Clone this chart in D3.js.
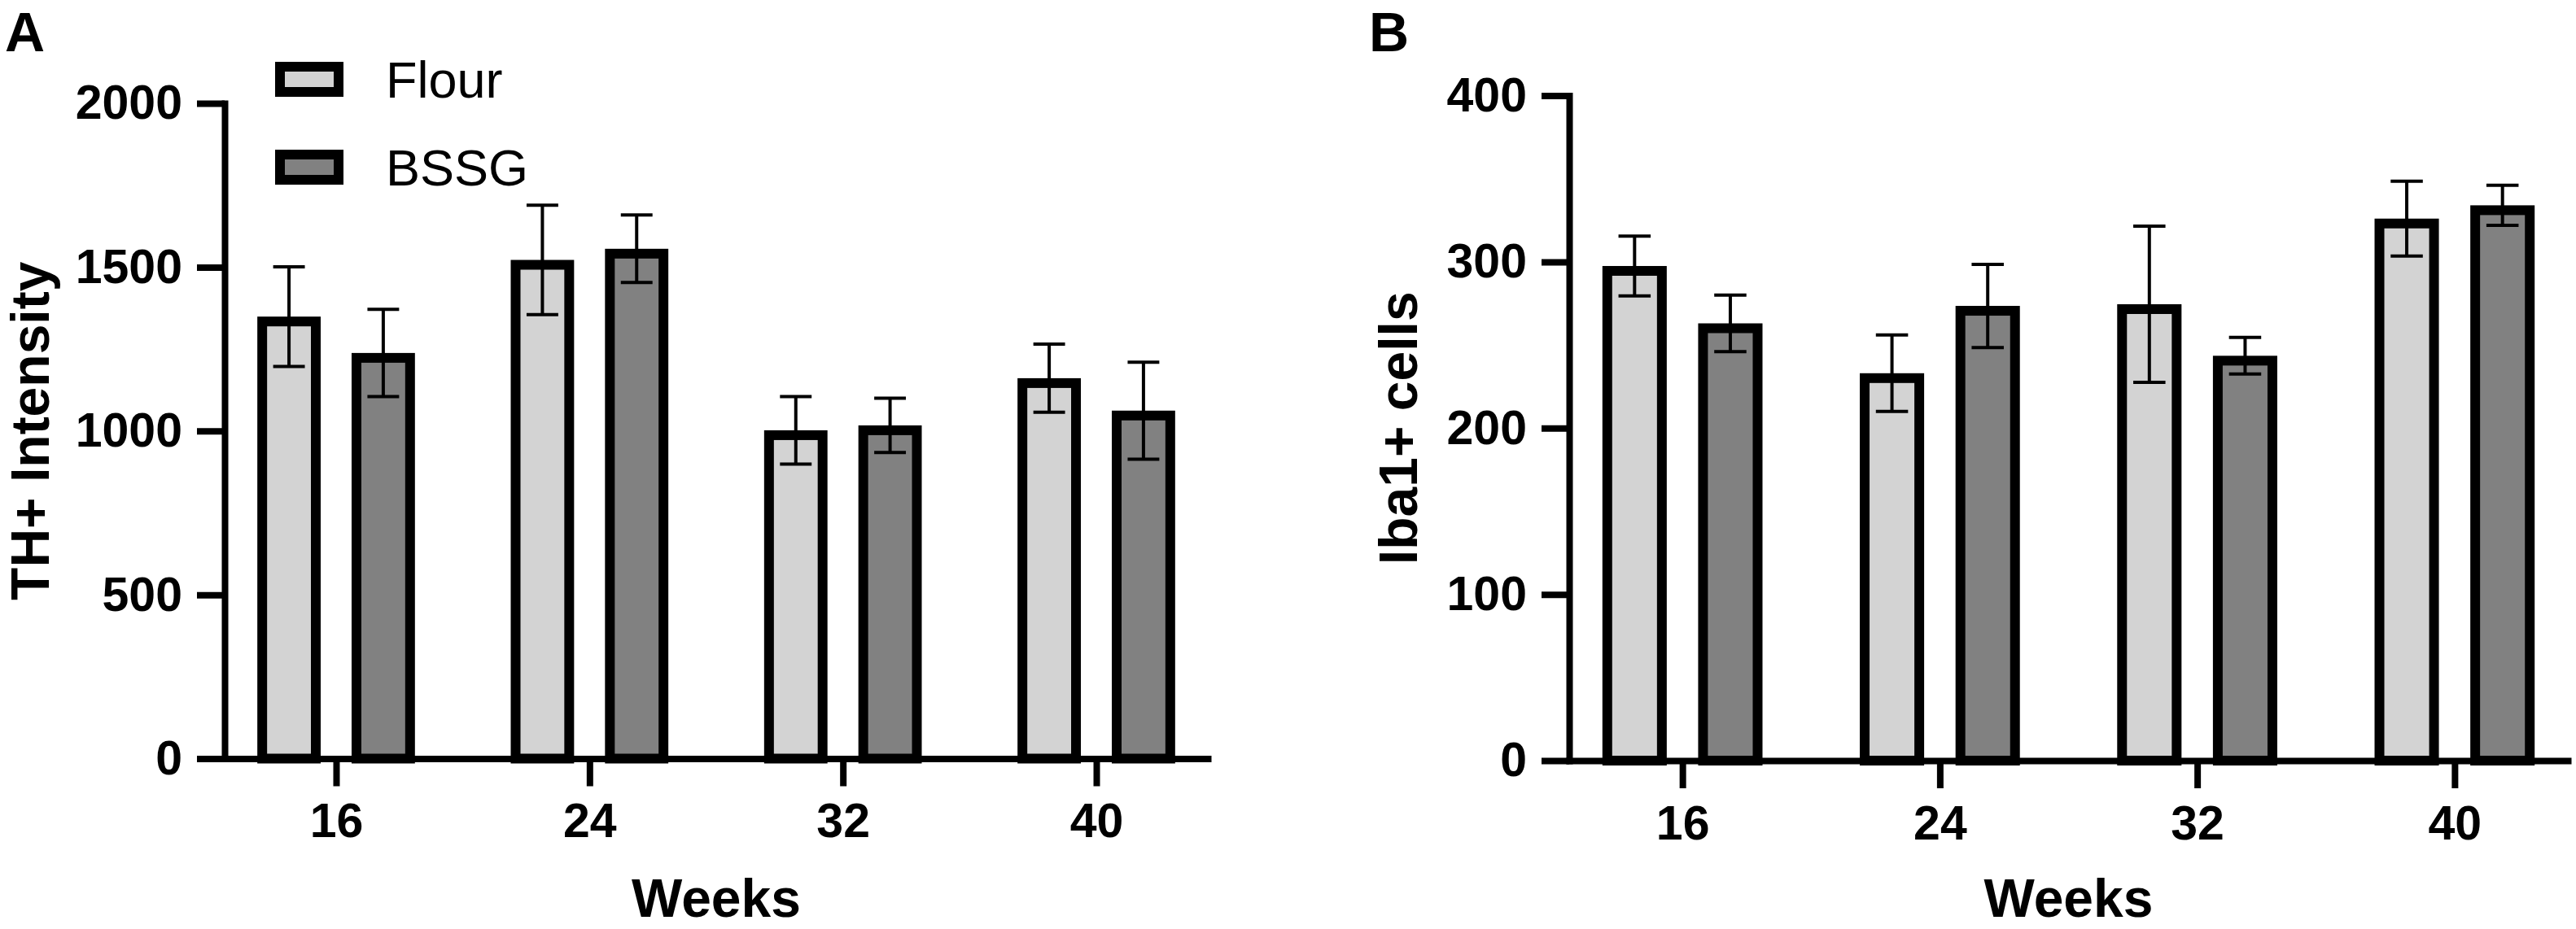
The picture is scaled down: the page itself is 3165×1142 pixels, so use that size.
<!DOCTYPE html>
<html>
<head>
<meta charset="utf-8">
<script src="https://cdn.jsdelivr.net/npm/d3@7"></script>
<style>
    body { margin: 0; background: #fff; }
    text { font-family: "Liberation Sans", Arial, sans-serif; fill: #000; }
</style>
</head>
<body>
<svg id="chart"></svg>
<script>
// data
var weeks = ["16", "24", "32", "40"];
var seriesNames = ["Flour", "BSSG"];
var seriesColors = ["#d3d3d3", "#818181"];

var thFlour = [1349, 1522, 1002, 1161];
var thFlourErr = [152, 167, 103, 104];
var thBssg = [1238, 1556, 1017, 1062];
var thBssgErr = [133, 103, 83, 148];
var thTicks = [0, 500, 1000, 1500, 2000];

var ibaFlour = [297.5, 233, 274.5, 326];
var ibaFlourErr = [18, 23, 47, 22.5];
var ibaBssg = [263, 273.5, 243.5, 334];
var ibaBssgErr = [17, 25, 11, 12];
var ibaTicks = [0, 100, 200, 300, 400];

var width = 3165, height = 1142;
var barStroke = 12, axisStroke = 8, errStroke = 4;

var svg = d3.select("#chart")
    .attr("width", width)
    .attr("height", height);

svg.append("rect")
    .attr("width", width)
    .attr("height", height)
    .attr("fill", "#fff");

function drawPanel(p) {
    var g = svg.append("g");

    var x = d3.scalePoint()
        .domain(weeks)
        .range([p.left, p.right])
        .padding(0.44);
    var y = d3.scaleLinear()
        .domain([0, p.max])
        .range([p.bottom, p.top]);

    var step = x.step();
    var barW = step * 0.25;
    var offset = step * 0.186;

    var rows = [];
    weeks.forEach(function (w, i) {
        rows.push({ week: w, s: 0, v: p.a[i], e: p.aErr[i] });
        rows.push({ week: w, s: 1, v: p.b[i], e: p.bErr[i] });
    });
    function cx(d) {
        return x(d.week) + (d.s === 0 ? -offset : offset);
    }

    // bars: outer top edge sits on the value
    g.selectAll("rect.bar")
        .data(rows)
        .enter().append("rect")
        .attr("class", "bar")
        .attr("x", function (d) { return cx(d) - barW / 2 + barStroke / 2; })
        .attr("width", barW - barStroke)
        .attr("y", function (d) { return y(d.v) + barStroke / 2; })
        .attr("height", function (d) { return y(0) - y(d.v) - barStroke / 2; })
        .attr("fill", function (d) { return seriesColors[d.s]; })
        .attr("stroke", "#000")
        .attr("stroke-width", barStroke);

    // y axis
    var yAxis = g.append("g")
        .attr("transform", "translate(" + p.left + ",0)")
        .call(d3.axisLeft(y)
            .tickValues(p.ticks)
            .tickFormat(d3.format("d"))
            .tickSize(34)
            .tickSizeOuter(0)
            .tickPadding(18));

    // x axis
    var xAxis = g.append("g")
        .attr("transform", "translate(0," + y(0) + ")")
        .call(d3.axisBottom(x)
            .tickSize(34)
            .tickSizeOuter(0)
            .tickPadding(21));

    [yAxis, xAxis].forEach(function (a) {
        a.select(".domain")
            .attr("stroke", "#000")
            .attr("stroke-width", axisStroke)
            .attr("stroke-linecap", "square");
        a.selectAll(".tick line")
            .attr("stroke", "#000")
            .attr("stroke-width", axisStroke);
        a.selectAll(".tick text")
            .style("font-size", "59px")
            .style("font-weight", "bold")
            .attr("fill", "#000");
    });

    // error bars
    var err = g.selectAll("g.err")
        .data(rows)
        .enter().append("g")
        .attr("class", "err")
        .attr("stroke", "#000")
        .attr("stroke-width", errStroke);
    err.append("line")
        .attr("x1", cx)
        .attr("x2", cx)
        .attr("y1", function (d) { return y(d.v - d.e); })
        .attr("y2", function (d) { return y(d.v + d.e); });
    err.append("line")
        .attr("x1", function (d) { return cx(d) - barW / 4; })
        .attr("x2", function (d) { return cx(d) + barW / 4; })
        .attr("y1", function (d) { return y(d.v + d.e); })
        .attr("y2", function (d) { return y(d.v + d.e); });
    err.append("line")
        .attr("x1", function (d) { return cx(d) - barW / 4; })
        .attr("x2", function (d) { return cx(d) + barW / 4; })
        .attr("y1", function (d) { return y(d.v - d.e); })
        .attr("y2", function (d) { return y(d.v - d.e); });

    // titles
    g.append("text")
        .attr("transform", "translate(" + p.titleX + "," + (p.top + p.bottom) / 2 + ") rotate(-90)")
        .attr("text-anchor", "middle")
        .style("font-size", "66px")
        .style("font-weight", "bold")
        .text(p.yTitle);
    g.append("text")
        .attr("x", (p.left + p.right) / 2)
        .attr("y", 1127)
        .attr("text-anchor", "middle")
        .style("font-size", "66px")
        .style("font-weight", "bold")
        .text("Weeks");
    g.append("text")
        .attr("x", p.labelX)
        .attr("y", 63)
        .style("font-size", "68px")
        .style("font-weight", "bold")
        .text(p.label);
}

drawPanel({
    label: "A", labelX: 6,
    left: 276, right: 1484, top: 127, bottom: 932.5, max: 2000,
    ticks: thTicks, yTitle: "TH+ Intensity", titleX: 60,
    a: thFlour, aErr: thFlourErr, b: thBssg, bErr: thBssgErr
});

drawPanel({
    label: "B", labelX: 1682,
    left: 1928, right: 3155, top: 117.5, bottom: 935, max: 400,
    ticks: ibaTicks, yTitle: "Iba1+ cells", titleX: 1741,
    a: ibaFlour, aErr: ibaFlourErr, b: ibaBssg, bErr: ibaBssgErr
});

// legend (panel A)
var legend = svg.selectAll("g.legend")
    .data(seriesNames)
    .enter().append("g")
    .attr("class", "legend")
    .attr("transform", function (d, i) {
        return "translate(338," + (76 + i * 108) + ")";
    });
legend.append("rect")
    .attr("x", barStroke / 2)
    .attr("y", barStroke / 2)
    .attr("width", 84 - barStroke)
    .attr("height", 43 - barStroke)
    .attr("fill", function (d, i) { return seriesColors[i]; })
    .attr("stroke", "#000")
    .attr("stroke-width", barStroke);
legend.append("text")
    .attr("x", 136)
    .attr("y", 44)
    .style("font-size", "63px")
    .text(function (d) { return d; });
</script>
</body>
</html>
